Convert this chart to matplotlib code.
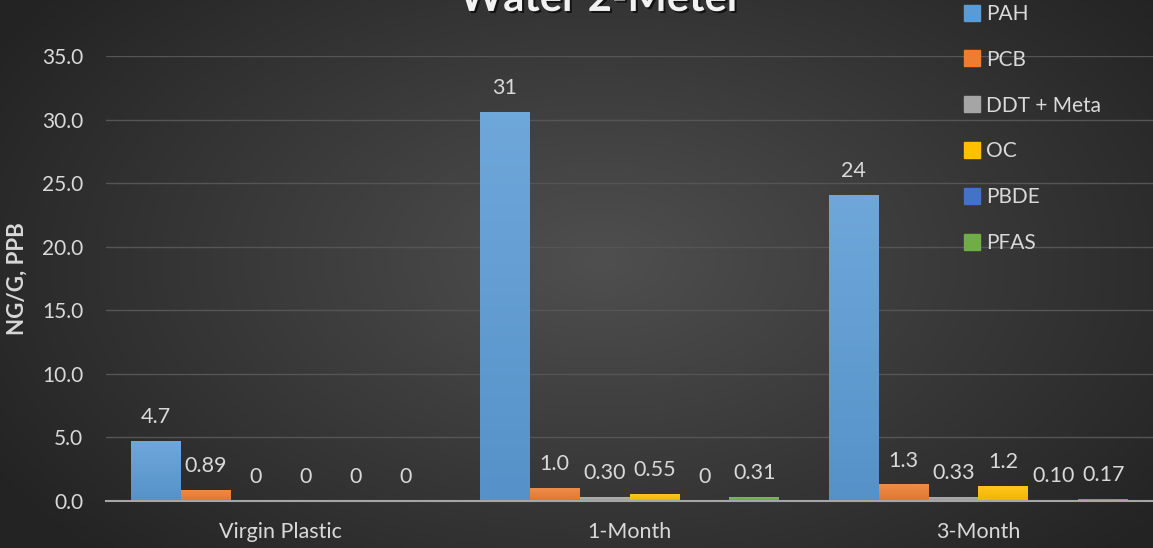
import numpy as np
import matplotlib
matplotlib.use("Agg")
import matplotlib.pyplot as plt
import matplotlib.patheffects as pe
from matplotlib.lines import Line2D
from matplotlib.colors import to_rgb

categories = ["Virgin Plastic", "1-Month", "3-Month"]
series = ["PAH", "PCB", "DDT + Meta", "OC", "PBDE", "PFAS"]
pah = [4.7, 30.6, 24.1]
pcb = [0.89, 1.02, 1.3]
ddt = [0.0, 0.30, 0.33]
oc = [0.0, 0.55, 1.2]
pbde = [0.0, 0.0, 0.10]
pfas = [0.0, 0.31, 0.17]
yticks = [0, 5, 10, 15, 20, 25, 30, 35]

colors = ["#5B9BD5", "#ED7D31", "#A5A5A5", "#FFC000", "#4472C4", "#70AD47"]
TXT = "#d9d9d9"
FS = 15

plt.rcParams["font.family"] = ["Lato", "DejaVu Sans"]


def fmt(v):
    if v == 0:
        return "0"
    if v >= 10:
        return f"{v:.0f}"
    if v >= 1:
        return f"{v:.1f}"
    return f"{v:.2f}"


def shade(c, f):
    r = np.array(to_rgb(c))
    return np.clip(r + (1 - r) * f, 0, 1) if f > 0 else np.clip(r * (1 + f), 0, 1)


fig = plt.figure(figsize=(11.53, 5.48), dpi=100)

# dark radial backdrop
bg = fig.add_axes([0, 0, 1, 1], zorder=-10)
yy, xx = np.mgrid[0:548, 0:1153]
d = np.sqrt(((xx - 600) / 700) ** 2 + ((yy - 260) / 420) ** 2)
g = np.clip(0.31 - 0.17 * d, 0.14, 0.32)
bg.imshow(np.dstack([g, g, g]), aspect="auto", extent=[0, 1, 0, 1])
bg.set_axis_off()

ax = fig.add_axes([106 / 1153, 1 - 501 / 548, 1047 / 1153, (501 - 56) / 548])
ax.patch.set_alpha(0)

data = [pah, pcb, ddt, oc, pbde, pfas]
w = 1 / 7
x = np.arange(len(categories))
for i, (name, vals, c) in enumerate(zip(series, data, colors)):
    pos = x - 3 * w + (i + 0.5) * w
    bars = ax.bar(pos, vals, width=w, color=c, zorder=3, label=name)
    grad = np.linspace(0, 1, 64)[:, None]
    top, bot = shade(c, 0.12), shade(c, -0.06)
    img = top[None, None, :] * (1 - grad[..., None]) + bot[None, None, :] * grad[..., None]
    for rect, v in zip(bars, vals):
        if v > 0:
            im = ax.imshow(img, extent=[rect.get_x(), rect.get_x() + w, 0, v],
                           aspect="auto", zorder=4)
            im.set_clip_path(rect)
        ax.annotate(fmt(v), (rect.get_x() + w / 2, v), xytext=(0, 10),
                    textcoords="offset points", ha="center", va="bottom",
                    fontsize=FS + 0.5, color=TXT)

ax.set_xlim(-0.5, 2.5)
ax.set_ylim(0, 35)
ax.set_yticks(yticks)
ax.set_yticklabels([f"{t:.1f}" for t in yticks])
ax.set_xticks(x)
ax.set_xticklabels(categories)
ax.tick_params(length=0, colors=TXT, labelsize=FS)
ax.tick_params(axis="x", pad=15, labelsize=FS + 0.5)
ax.tick_params(axis="y", pad=16.5)
ax.grid(axis="y", color="#555555", lw=1.0, zorder=0)
for s in ["top", "right", "left"]:
    ax.spines[s].set_visible(False)
ax.spines["bottom"].set_color("#a6a6a6")
ax.spines["bottom"].set_linewidth(1.5)
ax.spines["bottom"].set_zorder(5)
ax.set_ylabel("NG/G, PPB", fontsize=16, fontweight="bold", color=TXT)
ax.yaxis.set_label_coords(-0.075, 0.5)

fig.text(0.521, 0.98, "Water 2-Meter", ha="center", va="baseline", fontsize=30,
         fontweight="bold", color="#f2f2f2",
         path_effects=[pe.withSimplePatchShadow(offset=(1.5, -1.5),
                                                shadow_rgbFace="black", alpha=0.6)])

handles = [Line2D([], [], marker="s", ls="", markersize=11, color=c) for c in colors]
ax.legend(handles, series, loc="upper left", bbox_to_anchor=(955 / 1153, 1.008),
          bbox_transform=fig.transFigure, frameon=False, fontsize=FS,
          labelcolor=TXT, handlelength=0.8, handletextpad=0.3, labelspacing=1.24,
          borderaxespad=0)

fig.savefig("out.png", dpi=100)
